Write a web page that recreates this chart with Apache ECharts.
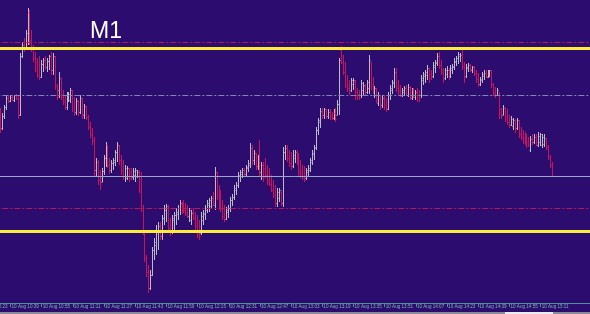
<!DOCTYPE html>
<html><head><meta charset="utf-8">
<script src="https://cdn.jsdelivr.net/npm/echarts@6/dist/echarts.min.js"></script>
<style>html,body{margin:0;padding:0;background:#2d0c70;}#c{width:590px;height:314px;}</style>
</head><body><div id="c"></div>
<script>
// Price in points (chart units), one bar per minute starting 10 Aug 10:34
const firstBarIndex = 11; // 10:34 is 11 minutes after the first category 10:23
const opens = [
890,872,884,893,902,899,903,900,904,901,
885,944,955,952,958,988,960,952,942,938,
935,923,936,940,933,939,943,930,944,914,
910,922,903,900,893,902,900,910,895,888,
899,888,902,885,894,883,873,865,860,830,
838,820,818,829,842,854,835,830,837,838,
848,854,840,830,824,822,832,828,823,825,
824,828,810,792,768,742,728,712,725,750,
755,770,774,764,782,790,794,772,768,780,
785,786,792,797,796,790,788,784,780,788,
782,774,770,767,780,786,790,795,794,802,
795,828,805,795,792,784,781,788,792,800,
803,810,815,824,826,830,826,832,835,852,
840,847,834,850,828,835,832,825,820,816,
810,805,797,802,808,797,848,852,842,837,
834,842,848,840,830,828,824,822,828,830,
838,846,852,870,878,889,885,890,884,888,
885,882,887,885,896,950,938,928,915,912,
910,916,918,908,906,904,910,914,908,912,
938,916,904,912,897,905,895,902,896,890,
904,910,917,928,914,910,905,908,912,905,
913,902,910,903,908,904,904,920,924,925,
932,926,924,933,937,944,935,930,922,926,
930,924,930,933,938,942,944,945,934,924,
932,935,930,933,927,921,916,920,924,927,
923,926,929,916,908,905,908,890,885,892,
884,878,875,874,879,872,879,866,863,862,
858,858,850,861,858,863,854,858,855,856,
862,853,843,835];
const closes = [
872,884,893,902,899,903,900,904,901,885,
944,955,952,967,988,960,952,942,930,925,
923,936,940,933,939,943,930,944,914,903,
922,903,898,893,905,906,910,892,888,899,
888,902,886,894,883,873,865,860,830,838,
820,815,829,842,854,835,830,837,840,848,
854,840,830,824,832,832,822,823,829,830,
828,810,792,768,742,728,712,725,750,758,
770,774,764,782,792,794,772,768,782,785,
788,792,797,790,790,786,784,790,787,782,
774,766,764,784,787,792,797,800,802,797,
828,805,795,792,784,781,790,792,800,803,
812,815,825,828,830,826,833,837,852,840,
847,834,842,828,835,822,825,818,816,810,
805,797,808,810,797,848,852,842,837,834,
845,848,840,828,825,822,820,830,832,840,
847,853,870,879,889,885,890,884,888,883,
882,887,881,896,940,938,928,915,912,907,
920,920,904,903,902,917,915,908,918,940,
914,910,912,900,905,895,902,893,890,905,
912,918,928,912,908,905,910,912,907,913,
904,910,905,908,900,902,922,926,928,932,
922,923,935,938,944,935,928,922,929,930,
924,932,934,939,942,946,945,934,922,933,
935,931,933,927,921,916,921,926,927,924,
928,929,916,907,904,910,887,885,892,882,
878,875,881,879,872,879,866,863,860,858,
855,855,861,858,863,858,864,865,863,862,
853,843,835,824];
const highs = [
892,887,895,905,904,905,904,905,906,905,
947,958,962,970,992,990,970,955,948,942,
943,940,942,943,942,945,948,947,944,916,
928,922,910,905,908,908,912,910,903,902,
900,905,902,896,894,885,878,872,863,842,
840,830,832,845,858,855,842,840,842,850,
858,854,845,840,835,834,832,832,832,832,
830,830,828,795,768,745,735,730,753,762,
775,778,778,785,795,796,795,782,785,788,
792,795,800,798,800,797,795,792,790,792,
788,785,780,788,790,795,800,802,804,808,
833,828,815,810,800,795,793,795,803,806,
815,818,828,830,832,832,835,840,857,855,
850,847,845,860,838,838,842,835,832,825,
820,815,812,812,810,853,855,854,850,848,
850,850,850,847,840,835,834,832,835,842,
850,855,873,882,892,892,892,891,890,890,
888,890,892,900,942,954,945,938,925,920,
922,922,920,912,910,920,918,916,920,945,
938,923,914,912,908,905,904,905,902,908,
915,920,932,932,920,915,912,914,915,916,
914,912,912,910,912,910,925,928,930,935,
932,930,938,940,947,948,940,932,932,934,
932,935,936,942,944,948,947,950,938,936,
937,936,934,934,930,927,923,928,929,930,
930,930,929,917,913,912,908,892,895,893,
890,885,884,882,881,882,879,873,870,868,
865,863,864,865,865,866,868,867,866,865,
862,855,845,838];
const lows = [
867,870,882,890,897,898,899,898,900,882,
884,942,948,950,955,955,948,938,928,922,
920,922,928,930,928,930,925,925,910,900,
902,900,895,890,890,898,897,888,884,885,
884,886,882,882,880,870,862,855,823,824,
815,810,818,825,833,832,826,827,830,834,
838,835,825,820,818,820,818,820,820,818,
822,807,788,765,738,723,707,710,724,740,
745,750,760,760,775,778,768,764,766,770,
775,780,785,786,787,784,782,778,775,780,
770,762,760,765,775,780,787,788,792,794,
790,800,790,788,780,778,780,782,788,794,
800,805,812,818,822,824,824,828,832,835,
835,830,830,823,820,818,822,815,814,808,
802,793,793,798,794,793,840,838,833,830,
832,837,835,823,822,820,818,820,824,828,
835,840,850,865,872,882,882,882,882,880,
880,880,878,885,885,936,925,912,908,905,
908,910,900,900,900,902,905,905,906,907,
910,907,902,897,894,890,892,890,888,890,
900,907,912,908,905,903,903,904,905,903,
900,900,902,900,898,898,902,915,917,920,
918,920,922,927,934,932,925,918,920,922,
920,922,926,930,934,936,938,930,918,922,
928,928,927,924,918,913,914,918,920,922,
922,923,912,904,902,904,882,882,885,878,
875,872,874,870,868,870,862,860,857,855,
852,853,848,855,857,854,853,854,852,853,
850,840,832,823];

// Tick labels on the time axis
const tickLabels = ['10 Aug 10:23','10 Aug 10:39','10 Aug 10:55','10 Aug 11:11','10 Aug 11:27',
 '10 Aug 11:43','10 Aug 11:59','10 Aug 12:15','10 Aug 12:31','10 Aug 12:47','10 Aug 13:03',
 '10 Aug 13:19','10 Aug 13:35','10 Aug 13:51','10 Aug 14:07','10 Aug 14:23','10 Aug 14:39',
 '10 Aug 14:55','10 Aug 15:11'];

// Horizontal levels (same units as prices)
const yellowLevels = [951.5, 768.5];
const redDashLevels = [957.5, 791.5];
const grayDashLevels = [904.5];
const bidLevel = [823.5];

// categories: one per minute from 10:23 (including empty chart-shift area on the right)
const categoryCount = 314;
const categories = [];
for (let i = 0; i < categoryCount; i++) {
  const m = 10 * 60 + 23 + i;
  const hh = String(Math.floor(m / 60)).padStart(2, '0');
  const mm = String(m % 60).padStart(2, '0');
  categories.push('10 Aug ' + hh + ':' + mm);
}

const bars = opens.map((o, k) => [firstBarIndex + k, o, closes[k], lows[k], highs[k]]);

const upColor = '#bcbcc2';
const downColor = '#cc1258';
const showTick = (idx, val) => tickLabels.indexOf(val) >= 0;

const chart = echarts.init(document.getElementById('c'));
const ml = [];
yellowLevels.forEach(v => ml.push({yAxis: v, lineStyle: {color: '#fbec3c', width: 3, type: 'solid'}}));
redDashLevels.forEach(v => ml.push({yAxis: v, lineStyle: {color: '#b8185a', width: 1, type: [6, 2, 2, 2]}}));
grayDashLevels.forEach(v => ml.push({yAxis: v, lineStyle: {color: '#8088b0', width: 1, type: [6, 2, 2, 2]}}));
bidLevel.forEach(v => ml.push({yAxis: v, lineStyle: {color: '#98a8c8', width: 1, type: 'solid'}}));

chart.setOption({
  backgroundColor: '#2d0c70',
  animation: false,
  grid: {left: -21.66, top: 0, width: 612, bottom: 11, containLabel: false, outerBoundsMode: 'none'},
  graphic: [
    {type: 'text', left: 90, top: 20, z: 10,
     style: {text: 'M1', fill: '#ffffff', font: '23px "Liberation Sans", Arial, sans-serif'}},
    {type: 'rect', shape: {x: 0, y: 312, width: 590, height: 2}, style: {fill: '#8a8a98'}, z: 10},
    {type: 'rect', shape: {x: 505, y: 312, width: 48, height: 2}, style: {fill: '#ececec'}, z: 11}
  ],
  xAxis: {
    type: 'category', data: categories, boundaryGap: true,
    axisLine: {lineStyle: {color: '#4d8f98', width: 1}},
    axisTick: {show: true, alignWithLabel: true, interval: showTick, length: 4, lineStyle: {color: '#4d8f98'}},
    axisLabel: {interval: 0, align: 'left', color: '#74b8a8', fontSize: 4.6, margin: 1,
      hideOverlap: false,
      formatter: (val) => (tickLabels.indexOf(val) >= 0 ? val : ''),
      padding: [0, 0, 0, 1],
      fontFamily: '"Liberation Sans", sans-serif'},
    splitLine: {show: false}
  },
  yAxis: {type: 'value', min: 697, max: 1000, show: false, splitLine: {show: false}},
  series: [{
    type: 'custom',
    data: bars,
    encode: {x: 0, y: [1, 2, 3, 4]},
    clip: true,
    renderItem: function (params, api) {
      const i = api.value(0);
      const o = api.value(1), c = api.value(2), l = api.value(3), h = api.value(4);
      const pH = api.coord([i, h]), pL = api.coord([i, l]);
      const yo = Math.floor(api.coord([i, o])[1]) + 0.5;
      const yc = Math.floor(api.coord([i, c])[1]) + 0.5;
      const x = Math.floor(pH[0]) + 0.5;
      const st = {stroke: c >= o ? upColor : downColor, lineWidth: 1};
      return {type: 'group', children: [
        {type: 'line', shape: {x1: x, y1: Math.floor(pH[1]), x2: x, y2: Math.ceil(pL[1])}, style: st},
        {type: 'line', shape: {x1: x - 1, y1: yo, x2: x, y2: yo}, style: st},
        {type: 'line', shape: {x1: x, y1: yc, x2: x + 1, y2: yc}, style: st}
      ]};
    },
    markLine: {symbol: 'none', silent: true, label: {show: false}, animation: false, data: ml}
  }]
});
</script></body></html>
